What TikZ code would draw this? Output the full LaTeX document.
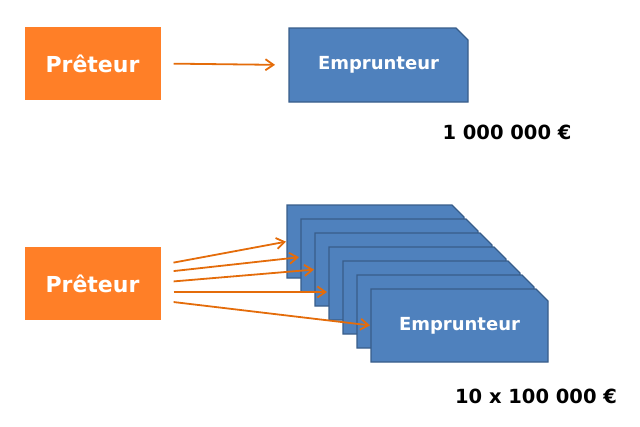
\documentclass[tikz,border=0pt]{standalone}
\usepackage{fontspec}
\setmainfont{DejaVu Sans}
\usepackage{xcolor}
\definecolor{prorange}{RGB}{255,127,39}
\definecolor{arrorange}{RGB}{228,108,10}
\definecolor{empblue}{RGB}{79,129,189}
\definecolor{empborder}{RGB}{56,93,138}
\usetikzlibrary{arrows.meta,positioning,backgrounds,calc}
% snipped corner box drawn round a named node
\newcommand{\empshape}[1]{\filldraw[empfill] (#1.south west) -- (#1.north west) -- ([xshift=-12pt]#1.north east) -- ([yshift=-12pt]#1.north east) -- (#1.south east) -- cycle;}

\begin{document}
\begin{tikzpicture}[x=1pt,y=-1pt,
  preteur/.style={fill=prorange, minimum width=136pt, minimum height=73pt, align=center, font=\fontsize{22}{26}\selectfont\bfseries, text=white},
  emprunteur/.style={rectangle, outer sep=0pt, minimum width=177pt, minimum height=73pt, align=center, font=\fontsize{18}{22}\selectfont\bfseries, text=white},
  empfill/.style={draw=empborder, line width=1.2pt, fill=empblue},
  fleche/.style={draw=arrorange, line width=1.8pt, -{Straight Barb[length=8pt,width=11pt]}},
  montant/.style={font=\fontsize{19.5}{23}\selectfont\bfseries, text=black}
]
  \useasboundingbox (0,0) rectangle (640,426);

  %% One loan
  \node[preteur] (p1) at (92.5,63.5) {Prêteur};
  \node[emprunteur, minimum width=179pt, minimum height=74pt] (e0) at (378.5,65) {Emprunteur};
  \begin{pgfonlayer}{background}
    \empshape{e0}
  \end{pgfonlayer}
  \draw[fleche, shorten <=13pt, shorten >=14pt] (p1.east) -- (e0.west);
  \node[montant] (m1) at (507,132) {1 000 000 €};

  %% Ten loans
  \node[preteur] (p2) at (92.5,283.5) {Prêteur};
  \foreach \i in {1,...,6}
    \node[emprunteur] (e\i) at ({375.5+14*(\i-1)},{241.5+14*(\i-1)}) {};
  \node[emprunteur] (e7) at (459.5,325.5) {Emprunteur};
  \begin{pgfonlayer}{background}
    \foreach \i in {1,...,7} {\empshape{e\i}}
  \end{pgfonlayer}

  \draw[fleche, shorten <=13pt, shorten >=1pt] ([yshift=18.5pt]p2.east) -- (e1.west);
  \draw[fleche, shorten <=13pt, shorten >=2pt] ([yshift=11pt]p2.east) -- ([yshift=-1.5pt]e2.west);
  \draw[fleche, shorten <=13pt, shorten >=1pt] ([yshift=1pt]p2.east) -- (e3.west);
  \draw[fleche, shorten <=13pt, shorten >=2pt] ([yshift=-8.5pt]p2.east) -- ([yshift=-8.5pt]e4.west);
  \draw[fleche, shorten <=13pt, shorten >=1pt] ([yshift=-17pt]p2.east) -- (e7.west);
  \node[montant] (m2) at (536,396) {10 x 100 000 €};
\end{tikzpicture}
\end{document}
